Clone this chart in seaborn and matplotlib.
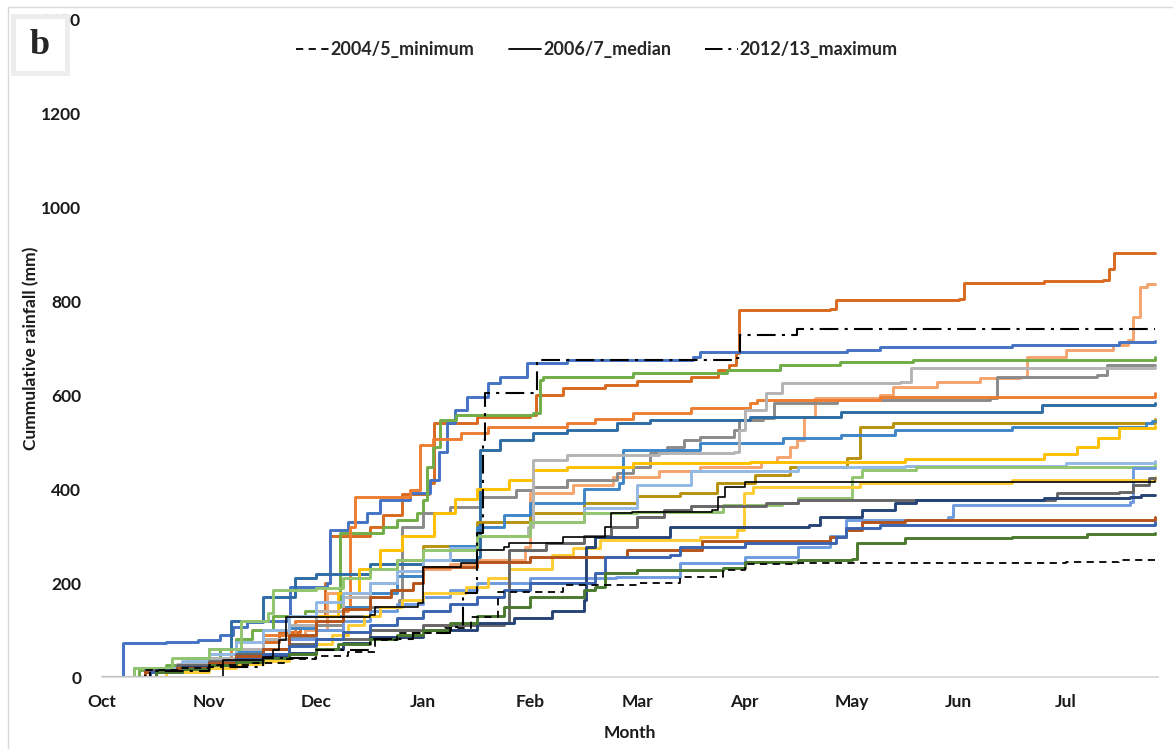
import matplotlib
matplotlib.use("Agg")
import matplotlib.pyplot as plt
import seaborn as sns
import pandas as pd
from matplotlib.lines import Line2D
from matplotlib.patches import Rectangle

# Month axis: 0 = start of October, 1 = start of November, ...
months = ["Oct", "Nov", "Dec", "Jan", "Feb", "Mar", "Apr", "May", "Jun", "Jul"]
rain_ticks = [0, 200, 400, 600, 800, 1000, 1200, 1400]

# Cumulative rainfall per season, knots of (month position, mm); each value holds until the next knot
burnt_orange = [(0, 0), (0.4, 0), (0.45, 10), (0.7, 18), (1.0, 25), (1.15, 40), (1.35, 55), (1.5, 75),
                (1.65, 95), (1.85, 110), (2.0, 130), (2.08, 200), (2.13, 300), (2.5, 320), (2.62, 345),
                (2.8, 390), (3.05, 413), (3.1, 541), (3.5, 555), (4.0, 558), (4.05, 600), (4.3, 615),
                (4.7, 622), (5.0, 630), (5.5, 640), (5.75, 655), (5.85, 665), (5.92, 690), (5.95, 782),
                (6.8, 784), (6.85, 803), (8.0, 805), (8.05, 840), (8.8, 843), (9.35, 846), (9.4, 870),
                (9.45, 904), (9.83, 904)]
salmon = [(0, 0), (0.3, 0), (0.4, 10), (0.8, 22), (1.0, 30), (1.3, 45), (1.5, 60), (1.75, 80), (1.9, 100),
          (2.1, 180), (2.5, 200), (2.75, 215), (3.0, 230), (3.25, 240), (3.5, 250), (3.95, 277), (4.0, 392),
          (4.4, 410), (4.77, 426), (5.2, 438), (5.58, 448), (6.15, 458), (6.3, 469), (6.42, 490), (6.49, 505),
          (6.55, 554), (6.66, 594), (7.26, 601), (7.39, 618), (7.8, 628), (8.2, 637), (8.57, 640), (8.64, 682),
          (9.0, 696), (9.44, 708), (9.58, 718), (9.63, 767), (9.69, 831), (9.76, 838), (9.83, 838)]
royal_blue = [(0, 0), (0.17, 0), (0.2, 72), (0.6, 75), (0.9, 78), (1.1, 90), (1.22, 107), (1.35, 118),
              (1.5, 120), (1.74, 130), (1.76, 192), (2.1, 200), (2.13, 313), (2.3, 330), (2.47, 350),
              (2.6, 377), (2.88, 392), (3.06, 420), (3.15, 480), (3.22, 541), (3.3, 570), (3.41, 597),
              (3.6, 626), (3.72, 640), (3.97, 669), (4.34, 676), (5.52, 682), (5.58, 693), (6.96, 697),
              (7.26, 704), (8.5, 708), (9.5, 714), (9.83, 716)]
leaf_green = [(0, 0), (0.25, 0), (0.35, 15), (0.6, 25), (0.9, 40), (1.1, 60), (1.25, 80), (1.4, 100),
              (1.6, 130), (1.9, 140), (2.2, 150), (2.22, 307), (2.62, 320), (2.75, 335), (2.94, 350),
              (3.0, 377), (3.03, 448), (3.09, 490), (3.16, 548), (3.31, 558), (4.02, 562), (4.09, 633),
              (4.12, 640), (4.96, 648), (5.84, 654), (6.33, 665), (6.89, 671), (7.57, 676), (9.83, 682)]
mid_gray = [(0, 0), (0.3, 0), (0.4, 10), (0.75, 20), (1.0, 30), (1.25, 45), (1.5, 60), (1.75, 85),
            (2.0, 110), (2.25, 130), (2.5, 150), (2.77, 164), (2.8, 320), (3.0, 350), (3.25, 362), (3.55, 384),
            (3.87, 398), (4.02, 405), (4.34, 420), (4.81, 434), (4.96, 448), (5.12, 477), (5.28, 490),
            (5.43, 505), (5.58, 512), (5.9, 526), (5.95, 548), (6.17, 552), (6.27, 584), (6.86, 590),
            (8.29, 594), (8.36, 640), (9.29, 644), (9.38, 665), (9.83, 665)]
orange = [(0, 0), (0.3, 0), (0.4, 10), (0.7, 25), (1.0, 40), (1.2, 60), (1.5, 90), (1.8, 120), (2.0, 140),
          (2.3, 150), (2.32, 320), (2.36, 384), (2.88, 398), (2.97, 494), (3.09, 507), (3.35, 520),
          (3.6, 533), (4.34, 541), (4.6, 550), (4.96, 562), (5.5, 573), (6.05, 584), (6.12, 590),
          (7.26, 597), (9.83, 605)]
steel_blue = [(0, 0), (0.2, 0), (0.3, 20), (0.8, 40), (1.0, 60), (1.2, 120), (1.5, 170), (1.8, 210),
              (2.0, 220), (2.5, 240), (3.0, 250), (3.5, 256), (3.53, 484), (3.72, 505), (4.02, 520),
              (4.34, 526), (4.81, 541), (5.12, 548), (6.05, 554), (6.9, 565), (8.7, 565), (8.78, 580),
              (9.83, 584)]
dark_gold = [(0, 0), (0.4, 0), (0.5, 10), (0.8, 18), (1.0, 25), (1.25, 35), (1.5, 50), (1.75, 70),
             (2.0, 100), (2.25, 150), (2.5, 200), (2.75, 250), (3.0, 280), (3.5, 330), (4.0, 350), (4.5, 370),
             (5.0, 385), (5.4, 392), (5.74, 413), (6.1, 430), (6.42, 448), (6.96, 467), (7.08, 533),
             (7.39, 541), (9.83, 550)]
sky_blue = [(0, 0), (0.3, 0), (0.45, 20), (0.8, 30), (1.0, 40), (1.25, 55), (1.5, 80), (1.75, 105),
            (2.0, 130), (2.25, 150), (2.5, 180), (2.75, 215), (3.0, 250), (3.25, 280), (3.5, 320),
            (3.75, 345), (4.0, 370), (4.5, 400), (4.83, 413), (4.86, 484), (5.58, 498), (6.36, 509),
            (6.9, 516), (7.4, 526), (8.5, 533), (9.75, 541), (9.8, 546), (9.83, 546)]
gold = [(0, 0), (0.4, 0), (0.5, 10), (0.8, 18), (1.0, 25), (1.25, 40), (1.5, 60), (1.75, 90), (2.0, 130),
        (2.2, 180), (2.4, 230), (2.6, 270), (2.8, 300), (3.1, 350), (3.3, 380), (3.5, 400), (3.8, 420),
        (4.02, 441), (4.34, 448), (4.96, 456), (6.05, 458), (7.5, 465), (8.8, 475), (9.1, 490), (9.3, 510),
        (9.5, 530), (9.83, 535)]
light_gray = [(0, 0), (0.3, 0), (0.4, 15), (0.7, 28), (1.0, 40), (1.25, 60), (1.5, 80), (1.75, 110),
              (2.0, 140), (2.25, 170), (2.5, 200), (2.75, 225), (3.0, 250), (3.25, 275), (3.5, 300),
              (3.98, 320), (4.02, 462), (4.34, 473), (5.2, 477), (5.9, 480), (5.95, 526), (6.0, 569),
              (6.2, 605), (6.35, 627), (7.45, 629), (7.55, 658), (9.83, 661)]
pale_blue = [(0, 0), (0.3, 0), (0.45, 20), (0.75, 35), (1.0, 50), (1.25, 75), (1.5, 100), (1.75, 130),
             (2.0, 160), (2.25, 180), (2.5, 200), (2.75, 225), (3.0, 250), (3.25, 275), (3.5, 300),
             (4.0, 330), (4.5, 360), (5.0, 410), (5.5, 440), (6.5, 448), (7.5, 450), (9.0, 455), (9.83, 460)]
light_green = [(0, 0), (0.2, 0), (0.3, 20), (0.65, 40), (1.0, 60), (1.3, 120), (1.55, 136), (1.6, 185),
               (2.0, 190), (2.25, 210), (2.5, 230), (2.75, 250), (3.0, 270), (3.5, 300), (4.0, 330),
               (4.5, 350), (5.0, 352), (5.8, 367), (6.35, 371), (6.5, 382), (7.0, 426), (7.1, 441),
               (7.6, 448), (9.83, 452)]
cornflower = [(0, 0), (0.3, 0), (0.4, 10), (0.7, 20), (1.0, 30), (1.25, 45), (1.5, 60), (1.75, 80),
              (2.0, 100), (2.25, 120), (2.5, 140), (2.75, 155), (3.0, 170), (3.25, 185), (3.5, 200),
              (4.0, 210), (4.8, 213), (5.4, 243), (6.0, 256), (6.5, 277), (6.8, 300), (6.95, 335),
              (7.9, 341), (7.95, 367), (9.6, 373), (9.63, 445), (9.83, 445)]
yellow = [(0, 0), (0.4, 0), (0.6, 10), (1.0, 20), (1.25, 28), (1.5, 35), (1.75, 50), (2.0, 70),
          (2.15, 90), (2.3, 110), (2.45, 130), (2.6, 150), (2.8, 165), (3.0, 180), (3.4, 192), (3.6, 210),
          (3.8, 230), (4.2, 260), (4.4, 275), (4.65, 292), (5.58, 298), (5.93, 313), (5.99, 392),
          (6.08, 405), (7.08, 413), (8.5, 420), (9.83, 426)]
dark_gray = [(0, 0), (0.3, 0), (0.4, 15), (0.7, 25), (1.0, 35), (1.25, 48), (1.5, 60), (1.75, 70),
             (2.0, 80), (2.5, 100), (3.0, 110), (3.75, 115), (3.8, 271), (4.15, 285), (4.5, 300),
             (4.75, 320), (5.0, 340), (5.25, 355), (5.5, 365), (6.2, 371), (6.5, 377), (8.9, 381),
             (8.92, 392), (9.5, 394), (9.63, 409), (9.78, 424), (9.83, 424)]
navy = [(0, 0), (0.4, 0), (0.5, 15), (0.75, 22), (1.0, 30), (1.25, 38), (1.5, 45), (1.75, 52), (2.0, 60),
        (2.25, 72), (2.5, 85), (3.0, 100), (3.5, 115), (3.85, 125), (4.2, 140), (4.5, 164), (4.52, 277),
        (4.6, 298), (5.3, 320), (6.6, 324), (6.7, 341), (7.1, 356), (7.4, 371), (7.6, 377), (8.8, 381),
        (9.6, 384), (9.7, 388), (9.83, 388)]
rust = [(0, 0), (0.3, 0), (0.4, 10), (0.7, 20), (1.0, 30), (1.25, 45), (1.5, 60), (1.75, 90), (2.0, 120),
        (2.25, 145), (2.5, 170), (2.7, 185), (2.9, 200), (3.0, 235), (3.5, 245), (4.0, 256), (4.9, 271),
        (5.6, 290), (6.8, 298), (6.95, 313), (7.1, 330), (7.5, 335), (9.83, 340)]
denim = [(0, 0), (0.35, 0), (0.45, 10), (0.75, 18), (1.0, 25), (1.25, 38), (1.5, 50), (1.75, 65),
         (2.0, 80), (2.25, 95), (2.5, 110), (2.75, 125), (3.0, 140), (3.25, 155), (3.5, 170), (3.75, 185),
         (4.0, 200), (4.6, 221), (4.7, 256), (5.3, 260), (5.4, 277), (6.0, 285), (6.85, 298), (6.95, 317),
         (7.26, 324), (9.83, 331)]
forest_green = [(0, 0), (0.4, 0), (0.5, 10), (0.75, 18), (1.0, 25), (1.25, 32), (1.5, 40), (1.75, 50),
                (2.0, 60), (2.2, 70), (2.5, 80), (2.75, 90), (3.0, 100), (3.25, 115), (3.5, 130), (3.75, 150),
                (4.0, 170), (4.5, 185), (4.6, 192), (4.7, 221), (5.0, 228), (5.8, 232), (6.0, 245),
                (6.5, 250), (7.0, 252), (7.05, 285), (7.5, 296), (8.5, 298), (9.2, 305), (9.83, 307)]

# Reference seasons (black)
season_2004_5 = [(0, 0), (0.25, 0), (0.4, 15), (0.7, 20), (1.0, 25), (1.4, 30), (1.7, 38), (2.0, 45),
                 (2.3, 53), (2.55, 79), (2.75, 94), (3.2, 104), (3.45, 128), (3.7, 181), (4.3, 196),
                 (5.0, 200), (5.4, 213), (5.8, 228), (6.0, 240), (6.5, 243), (9.0, 245), (9.5, 250),
                 (9.83, 252)]
season_2006_7 = [(0, 0), (1.12, 0), (1.13, 36), (1.5, 43), (1.6, 57), (1.65, 79), (1.72, 128), (2.5, 132),
                 (2.55, 149), (2.95, 157), (3.0, 235), (3.35, 243), (3.5, 271), (3.75, 277), (3.8, 285),
                 (4.25, 285), (4.3, 298), (4.7, 320), (4.75, 349), (4.95, 352), (5.7, 356), (5.75, 384),
                 (5.82, 405), (6.0, 416), (9.83, 418)]
season_2012_13 = [(0, 0), (0.35, 0), (0.45, 12), (1.0, 22), (1.5, 40), (2.0, 58), (2.5, 80), (2.9, 94),
                  (3.25, 100), (3.3, 107), (3.37, 179), (3.5, 307), (3.56, 505), (3.58, 605), (4.02, 607),
                  (4.06, 676), (5.89, 680), (5.96, 729), (6.45, 729), (6.49, 742), (9.83, 742)]

colored_seasons = [
    (burnt_orange, "#D9691F"), (salmon, "#F4A46E"), (royal_blue, "#4472C4"), (leaf_green, "#70AD47"),
    (mid_gray, "#8A8A8A"), (orange, "#ED7D31"), (steel_blue, "#2E6CA4"), (dark_gold, "#B8920C"),
    (sky_blue, "#3F86C9"), (gold, "#FFC000"), (light_gray, "#B4B4B4"), (pale_blue, "#92B8E4"),
    (light_green, "#92C56E"), (cornflower, "#6E9BE0"), (yellow, "#FFCD33"), (dark_gray, "#666666"),
    (navy, "#264478"), (rust, "#B4531A"), (denim, "#3A63B0"), (forest_green, "#4A7A2E"),
]

sns.set_theme(style="white")
plt.rcParams["font.family"] = ["Lato", "DejaVu Sans"]
plt.rcParams["font.weight"] = "bold"

W, H = 1173, 749
fig = plt.figure(figsize=(W / 100, H / 100), dpi=100)
fig.patch.set_facecolor("white")
ax = fig.add_axes([102 / W, 1 - 677 / H, (1158 - 102) / W, (677 - 20) / H])


def draw(points, **kw):
    df = pd.DataFrame(points, columns=["month", "mm"])
    sns.lineplot(data=df, x="month", y="mm", ax=ax, sort=False, estimator=None, legend=False,
                 drawstyle="steps-post", **kw)


for pts, col in colored_seasons:
    draw(pts, color=col, linewidth=2.1)

min_style = dict(color="black", linewidth=1.3, dashes=(4, 3))
med_style = dict(color="black", linewidth=1.2)
max_style = dict(color="black", linewidth=1.5, dashes=(9, 3, 1.5, 3))
draw(season_2004_5, **min_style)
draw(season_2006_7, **med_style)
draw(season_2012_13, **max_style)

ax.set_xlim(0, 9.86)
ax.set_ylim(0, 1400)
ax.set_xticks(range(len(months)))
ax.set_xticklabels(months, fontsize=12.5, fontweight="bold", color="#1a1a1a")
ax.set_yticks(rain_ticks)
ax.set_yticklabels([str(v) for v in rain_ticks], fontsize=12.5, fontweight="bold", color="#1a1a1a")
ax.tick_params(axis="x", length=0, pad=12)
ax.tick_params(axis="y", length=0, pad=15)
ax.set_xlabel("Month", fontsize=12.5, fontweight="bold", color="#1a1a1a", labelpad=11)
ax.set_ylabel("Cummulative rainfall (mm)", fontsize=12.5, fontweight="bold", color="#1a1a1a", labelpad=1)
for side in ("top", "right", "left"):
    ax.spines[side].set_visible(False)
ax.spines["bottom"].set_color("#D9D9D9")
ax.spines["bottom"].set_linewidth(1.3)
ax.grid(False)

handles = [
    Line2D([], [], color="black", linewidth=1.3, linestyle=(0, (4, 3))),
    Line2D([], [], color="black", linewidth=1.3),
    Line2D([], [], color="black", linewidth=1.4, linestyle=(0, (9, 3, 1.5, 3))),
]
fig.legend(handles, ["2004/5_minimum", "2006/7_median", "2012/13_maximum"], loc="center",
           bbox_to_anchor=(597 / W, 1 - 50 / H), ncol=3, frameon=False, handlelength=1.8,
           handletextpad=0.1, columnspacing=1.9, prop={"size": 13, "weight": "bold"})

# Panel letter box
fig.add_artist(Rectangle((13 / W, 1 - 73 / H), 54 / W, 57 / H, transform=fig.transFigure,
                         facecolor="white", edgecolor="#EDEDED", linewidth=3.5, zorder=10))
fig.text(40 / W, 1 - 46 / H, "b", fontsize=26, fontweight="bold", family="Liberation Serif",
         ha="center", va="center", zorder=11)

# Chart-area frame
fig.add_artist(Line2D([8 / W, 8 / W], [0, 1 - 7 / H], transform=fig.transFigure, color="#D9D9D9", linewidth=1))
fig.add_artist(Line2D([8 / W, 1], [1 - 7 / H, 1 - 7 / H], transform=fig.transFigure, color="#D9D9D9", linewidth=1))

fig.savefig("out.png", dpi=100)
